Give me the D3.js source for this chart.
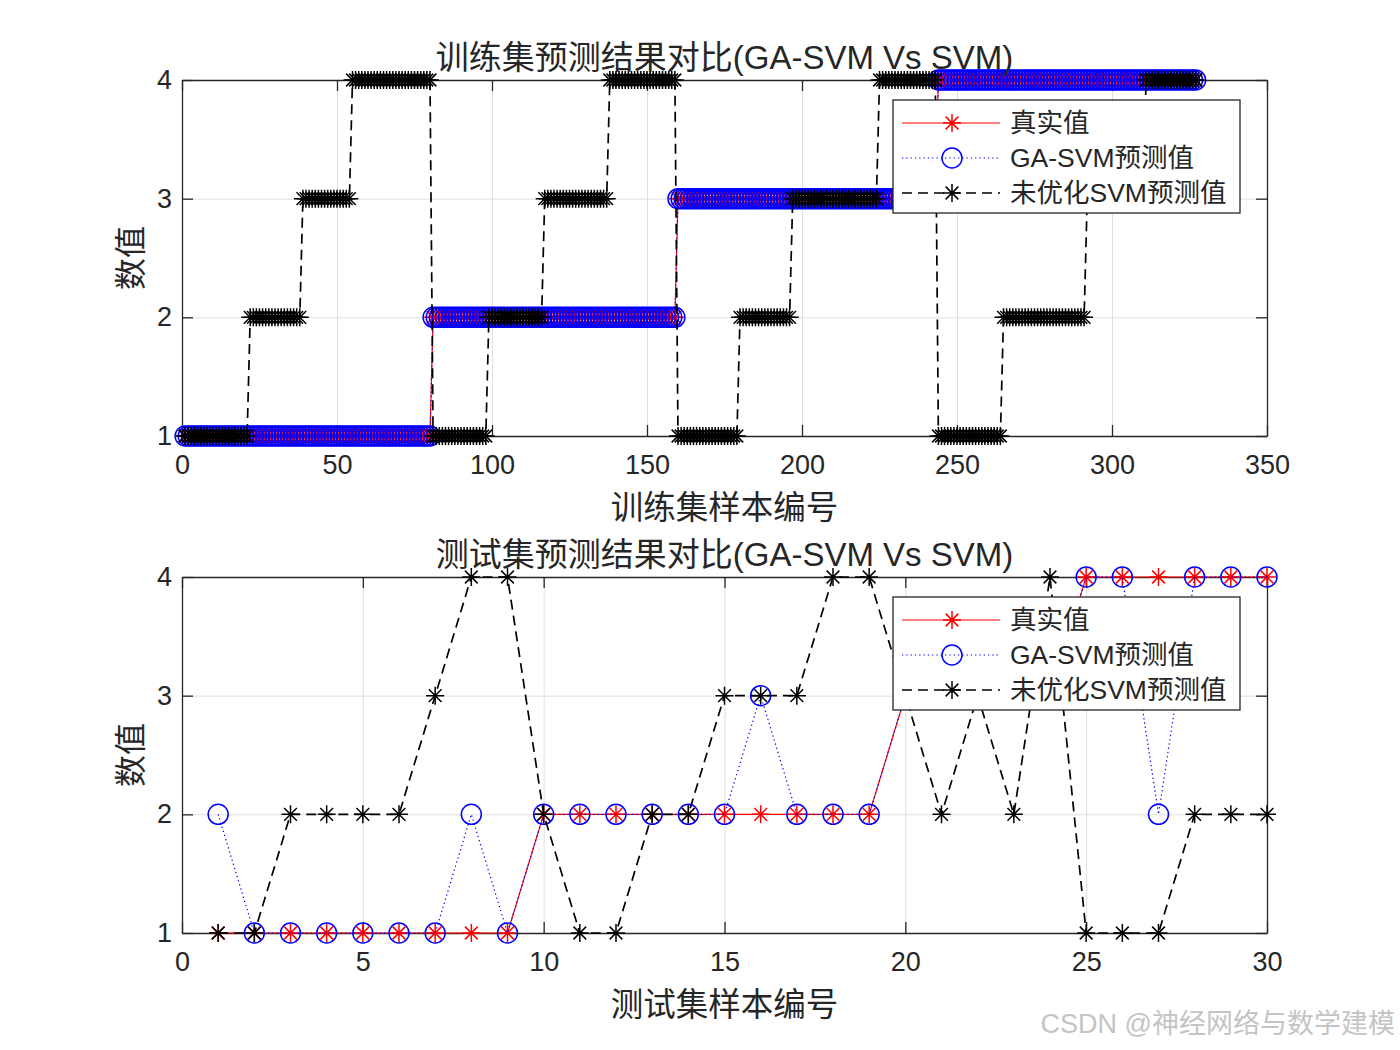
<!DOCTYPE html>
<html>
<head>
<meta charset="utf-8">
<script src="https://cdn.jsdelivr.net/npm/d3@7"></script>
<style>
  body { margin: 0; background: #fff; }
  text { font-family: "Liberation Sans", "Noto Sans CJK SC", sans-serif; fill: #262626; }
</style>
</head>
<body>
<div id="chart"></div>
<script>
// ---- training set: run lengths, [class value, number of samples] ----
const trainTrueRuns = [[1, 80], [2, 79], [3, 84], [4, 84]];
const trainGaRuns = [[1, 80], [2, 79], [3, 84], [4, 84]];
const trainSvmRuns = [
  [1, 21], [2, 17], [3, 16], [4, 26],
  [1, 18], [2, 18], [3, 21], [4, 22],
  [1, 20], [2, 17], [3, 28], [4, 19],
  [1, 21], [2, 27], [3, 19], [4, 17],
];

// ---- test set, samples 1..30 ----
const testTrue = [1, 1, 1, 1, 1, 1, 1, 1, 1, 2, 2, 2, 2, 2, 2, 2, 2, 2, 2, 3, 3, 3, 3, 3, 4, 4, 4, 4, 4, 4];
const testGa   = [2, 1, 1, 1, 1, 1, 1, 2, 1, 2, 2, 2, 2, 2, 2, 3, 2, 2, 2, 3, 3, 3, 3, 3, 4, 4, 2, 4, 4, 4];
const testSvm  = [1, 1, 2, 2, 2, 2, 3, 4, 4, 2, 1, 1, 2, 2, 3, 3, 3, 4, 4, 3, 2, 3, 2, 4, 1, 1, 1, 2, 2, 2];

const trainXTicks = [0, 50, 100, 150, 200, 250, 300, 350];
const testXTicks = [0, 5, 10, 15, 20, 25, 30];
const yTicks = [1, 2, 3, 4];
const legendNames = ["真实值", "GA-SVM预测值", "未优化SVM预测值"];

// expand run lengths into one value per sample
const expandRuns = (runs) => runs.flatMap(([v, n]) => Array(n).fill(v));

const W = 1400, H = 1050;
const left = 182, right = 1267;

const svg = d3.select("#chart").append("svg")
  .attr("width", W).attr("height", H);

const starPath = (r) => {
  const d = r * 0.7071;
  return `M0,${-r}V${r}M${-r},0H${r}M${-d},${-d}L${d},${d}M${-d},${d}L${d},${-d}`;
};

const styles = [
  { color: "#ff0000", dash: null, width: 1.2, marker: "star" },
  { color: "#0000ff", dash: "1.3,3", width: 1.2, marker: "circle" },
  { color: "#000000", dash: "10,6", width: 1.7, marker: "star" },
];

function drawMarkers(g, pts, st) {
  if (st.marker === "circle") {
    g.selectAll(null).data(pts).enter().append("circle")
      .attr("cx", (d) => d[0]).attr("cy", (d) => d[1]).attr("r", 10)
      .attr("fill", "none").attr("stroke", st.color).attr("stroke-width", 1.5);
  } else {
    g.selectAll(null).data(pts).enter().append("path")
      .attr("transform", (d) => `translate(${d[0]},${d[1]})`)
      .attr("d", starPath(9))
      .attr("fill", "none").attr("stroke", st.color).attr("stroke-width", 1.5);
  }
}

function drawPanel(cfg) {
  const x = d3.scaleLinear().domain(cfg.xDomain).range([left, right]);
  const y = d3.scaleLinear().domain([1, 4]).range([cfg.bottom, cfg.top]);
  const g = svg.append("g");

  // grid
  g.append("g").attr("transform", `translate(0,${cfg.bottom})`)
    .call(d3.axisBottom(x).tickValues(cfg.xTicks).tickSize(-(cfg.bottom - cfg.top)).tickFormat(""))
    .call((s) => { s.select(".domain").remove(); s.selectAll("line").attr("stroke", "#dfdfdf").attr("stroke-width", 1); });
  g.append("g").attr("transform", `translate(${left},0)`)
    .call(d3.axisLeft(y).tickValues(yTicks).tickSize(-(right - left)).tickFormat(""))
    .call((s) => { s.select(".domain").remove(); s.selectAll("line").attr("stroke", "#dfdfdf").attr("stroke-width", 1); });

  // axes with inward ticks (box on)
  const axStyle = (s) => {
    s.select(".domain").attr("stroke", "#262626").attr("stroke-width", 1.3);
    s.selectAll(".tick line").attr("stroke", "#262626").attr("stroke-width", 1.3);
    s.selectAll(".tick text").style("font-size", "27px").attr("fill", "#262626");
  };
  g.append("g").attr("transform", `translate(0,${cfg.bottom})`)
    .call(d3.axisBottom(x).tickValues(cfg.xTicks).tickSizeInner(-11).tickSizeOuter(0).tickPadding(19))
    .call(axStyle);
  g.append("g").attr("transform", `translate(0,${cfg.top})`)
    .call(d3.axisTop(x).tickValues(cfg.xTicks).tickSizeInner(-11).tickSizeOuter(0).tickFormat(""))
    .call(axStyle);
  g.append("g").attr("transform", `translate(${left},0)`)
    .call(d3.axisLeft(y).tickValues(yTicks).tickSizeInner(-11).tickSizeOuter(0).tickPadding(10).tickFormat(d3.format("d")))
    .call(axStyle);
  g.append("g").attr("transform", `translate(${right},0)`)
    .call(d3.axisRight(y).tickValues(yTicks).tickSizeInner(-11).tickSizeOuter(0).tickFormat(""))
    .call(axStyle);

  // series
  cfg.series.forEach((vals, i) => {
    const st = styles[i];
    const pts = vals.map((v, k) => [x(k + 1), y(v)]);
    g.append("path")
      .attr("d", d3.line()(pts))
      .attr("fill", "none").attr("stroke", st.color)
      .attr("stroke-width", st.width)
      .attr("stroke-dasharray", st.dash);
    drawMarkers(g.append("g"), pts, st);
  });

  // title and labels
  g.append("text").attr("x", (left + right) / 2).attr("y", cfg.top - 11)
    .attr("text-anchor", "middle").style("font-size", "33px").text(cfg.title);
  g.append("text").attr("x", (left + right) / 2).attr("y", cfg.bottom + 83)
    .attr("text-anchor", "middle").style("font-size", "32.5px").text(cfg.xlabel);
  g.append("text")
    .attr("transform", `translate(142,${(cfg.top + cfg.bottom) / 2}) rotate(-90)`)
    .attr("text-anchor", "middle").style("font-size", "32px").text("数值");

  // legend
  const lx = 893, ly = cfg.top + 20, lw = 347, lh = 113;
  const lg = g.append("g");
  lg.append("rect").attr("x", lx).attr("y", ly).attr("width", lw).attr("height", lh)
    .attr("fill", "#fff").attr("stroke", "#262626").attr("stroke-width", 1.3);
  legendNames.forEach((name, i) => {
    const st = styles[i];
    const cy = ly + 23 + i * 35;
    lg.append("line").attr("x1", lx + 9).attr("x2", lx + 107).attr("y1", cy).attr("y2", cy)
      .attr("stroke", st.color).attr("stroke-width", st.width).attr("stroke-dasharray", st.dash);
    drawMarkers(lg.append("g"), [[lx + 59, cy]], st);
    lg.append("text").attr("x", lx + 117).attr("y", cy + 9)
      .style("font-size", "26.5px").text(name);
  });
}

drawPanel({
  top: 80, bottom: 436,
  xDomain: [0, 350], xTicks: trainXTicks,
  title: "训练集预测结果对比(GA-SVM Vs SVM)",
  xlabel: "训练集样本编号",
  series: [expandRuns(trainTrueRuns), expandRuns(trainGaRuns), expandRuns(trainSvmRuns)],
});

drawPanel({
  top: 577, bottom: 933,
  xDomain: [0, 30], xTicks: testXTicks,
  title: "测试集预测结果对比(GA-SVM Vs SVM)",
  xlabel: "测试集样本编号",
  series: [testTrue, testGa, testSvm],
});

// watermark
svg.append("text").attr("x", 1395).attr("y", 1033)
  .attr("text-anchor", "end").style("font-size", "27px").style("fill", "#c4c4c4")
  .text("CSDN @神经网络与数学建模");
</script>
</body>
</html>
